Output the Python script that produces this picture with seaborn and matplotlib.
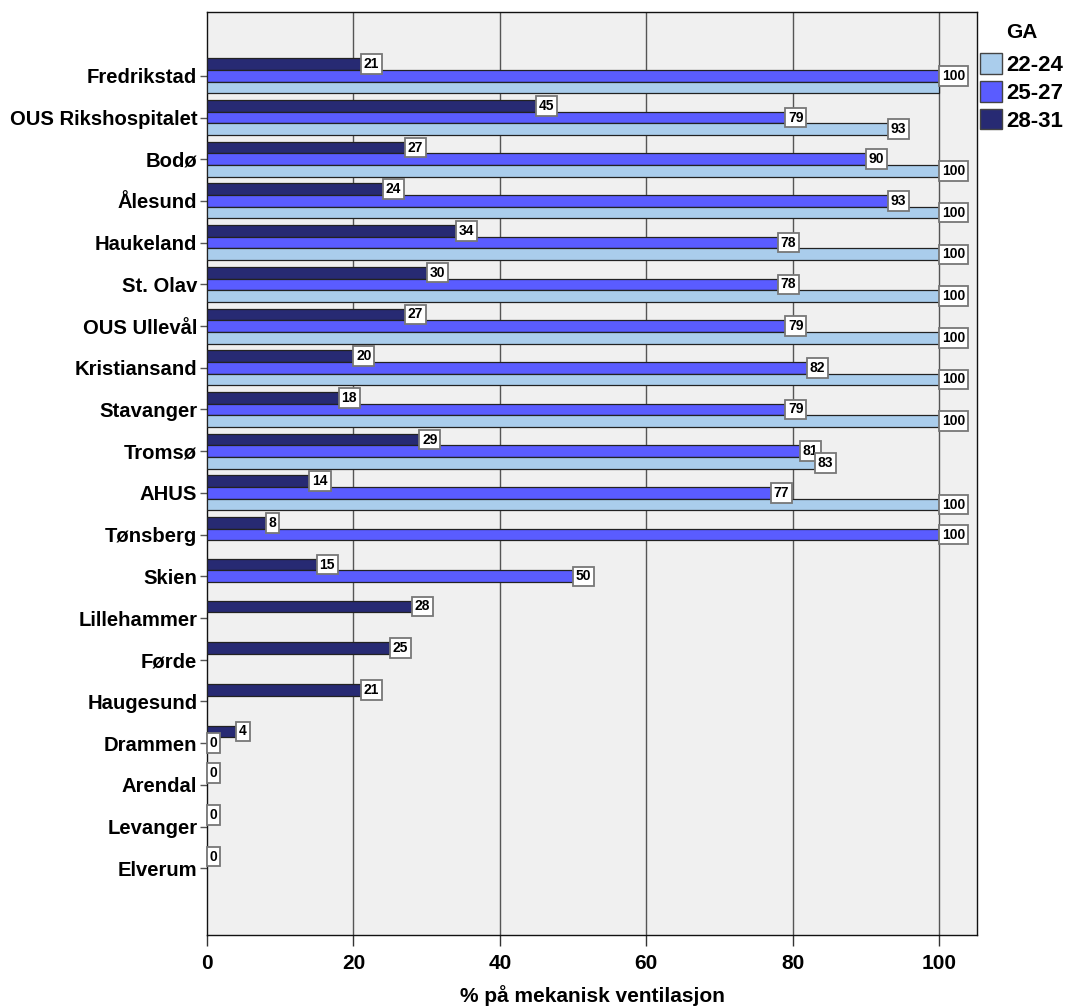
import numpy as np
import pandas as pd
import matplotlib
matplotlib.use("Agg")
import matplotlib.pyplot as plt
import seaborn as sns
from matplotlib.patches import Patch

hospitals = ["Fredrikstad", "OUS Rikshospitalet", "Bodø", "Ålesund", "Haukeland",
             "St. Olav", "OUS Ullevål", "Kristiansand", "Stavanger", "Tromsø",
             "AHUS", "Tønsberg", "Skien", "Lillehammer", "Førde", "Haugesund",
             "Drammen", "Arendal", "Levanger", "Elverum"]
nan = np.nan
ga_28_31 = [21, 45, 27, 24, 34, 30, 27, 20, 18, 29, 14, 8, 15, 28, 25, 21, 4, 0, 0, 0]
ga_25_27 = [100, 79, 90, 93, 78, 78, 79, 82, 79, 81, 77, 100, 50, nan, nan, nan, 0, nan, nan, nan]
ga_22_24 = [100, 93, 100, 100, 100, 100, 100, 100, 100, 83, 100, nan, nan, nan, nan, nan, nan, nan, nan, nan]
groups = ["28-31", "25-27", "22-24"]
legend_order = ["22-24", "25-27", "28-31"]
colors = {"22-24": "#AACDEC", "25-27": "#5A5CFF", "28-31": "#272A73"}

rows = []
for g, vals in zip(groups, [ga_28_31, ga_25_27, ga_22_24]):
    for h, v in zip(hospitals, vals):
        rows.append({"Sykehus": h, "GA": g, "pct": v})
df = pd.DataFrame(rows)

sns.set_style("white")
plt.rcParams["font.family"] = ["Liberation Sans", "DejaVu Sans"]
plt.rcParams["text.color"] = "black"
plt.rcParams["axes.labelcolor"] = "black"
plt.rcParams["xtick.color"] = "black"
plt.rcParams["ytick.color"] = "black"

fig = plt.figure(figsize=(10.79, 10.08), dpi=100)
ax = fig.add_axes([207/1079, 1-935/1008, (977-207)/1079, (935-12)/1008])
ax.set_facecolor("#F0F0F0")

sns.barplot(data=df, y="Sykehus", x="pct", hue="GA", order=hospitals,
            hue_order=groups, palette=colors, orient="h", width=0.84,
            saturation=1, edgecolor="#222222", linewidth=0.9, ax=ax, legend=False,
            errorbar=None, zorder=3)

for x in [20, 40, 60, 80, 100]:
    ax.axvline(x, color="#555555", lw=1.0, zorder=1)

ax.set_xlim(0, 105.2)
ax.set_ylim(20.6, -1.53)

# value labels (a label that would sit exactly on top of an identical label
# in the bar just above is hidden, as in the original)
placed = []
for cont in ax.containers:
    for bar, val in zip(cont.patches, cont.datavalues):
        if np.isnan(val):
            continue
        y = bar.get_y() + bar.get_height() / 2
        if any(abs(pv - val) < 1e-9 and abs(py - y) < 0.3 for pv, py in placed):
            continue
        placed.append((val, y))
        ax.annotate(f"{val:.0f}", xy=(val, y), xytext=(2.0, 0), textcoords="offset points",
                    ha="left", va="center", fontsize=10, fontweight="bold", color="black",
                    bbox=dict(boxstyle="square,pad=0.2", fc="white", ec="#777777", lw=1.3),
                    zorder=5)

ax.set_xticks([0, 20, 40, 60, 80, 100])
ax.set_xticklabels(["0", "20", "40", "60", "80", "100"], fontsize=15, fontweight="bold")
ax.set_yticks(range(len(hospitals)))
ax.set_yticklabels(hospitals, fontsize=14.6, fontweight="bold")
ax.tick_params(axis="y", length=5, width=1, color="#555555", pad=2, left=True)
ax.tick_params(axis="x", length=8, width=1, color="#333333", pad=6, bottom=True)
ax.set_ylabel("")
ax.set_xlabel("% på mekanisk ventilasjon", fontsize=15, fontweight="bold", labelpad=8)
for s in ax.spines.values():
    s.set_visible(True)
    s.set_color("#111111")
    s.set_linewidth(1.0)

handles = [Patch(facecolor=colors[g], edgecolor="#444444", lw=1.0, label=g) for g in legend_order]
leg = fig.legend(handles=handles, title="GA", loc="upper left",
                 bbox_to_anchor=(960/1079, 1-3/1008), frameon=False,
                 prop={"size": 16, "weight": "bold"}, title_fontproperties={"size": 15, "weight": "bold"},
                 handlelength=1.0, handleheight=1.05, handletextpad=0.2, labelspacing=0.22)
leg._legend_box.sep = 8

fig.savefig("out.png", dpi=100)
